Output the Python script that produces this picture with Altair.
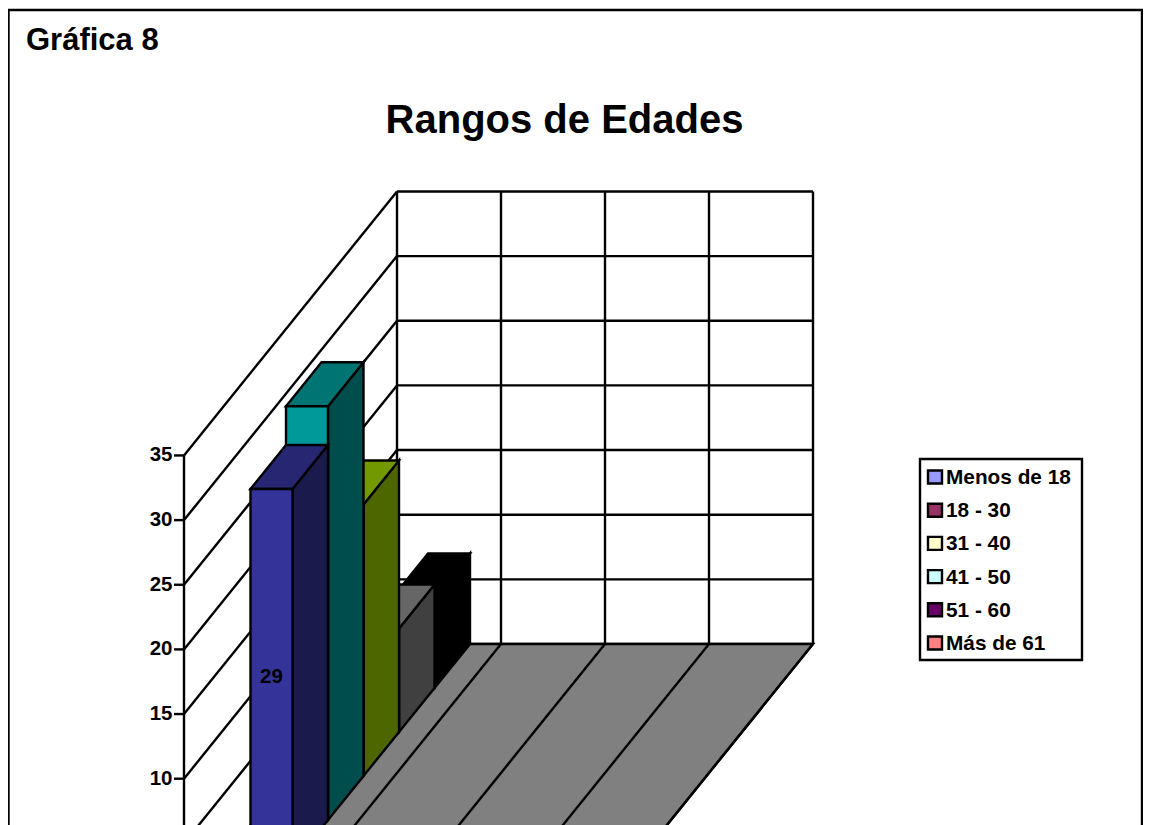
import altair as alt
import pandas as pd

# ---- chart values ----
CHART_LABEL = "Gráfica 8"
TITLE = "Rangos de Edades"
LEGEND_NAMES = ["Menos de 18", "18 - 30", "31 - 40", "41 - 50", "51 - 60", "Más de 61"]
LEGEND_COLORS = ["#9999FF", "#993366", "#FFFFCC", "#CCFFFF", "#660066", "#FF8080"]
BAR_VALUES = [29, 32, 21, 8, 7]
BAR_FRONT = ["#333399", "#009999", "#99CC00", "#808080", "#000000"]
BAR_TOP = ["#262673", "#007373", "#739900", "#666666", "#000000"]
BAR_SIDE = ["#1A1A4D", "#004D4D", "#4D6600", "#404040", "#000000"]
BAR_LABELS = ["29", "", "", "", ""]
TICKS = [0, 5, 10, 15, 20, 25, 30, 35]
CATEGORY_COUNT = 4
SERIES_SLOTS = 6

# ---- oblique projection of the 3D box (screen scale) ----
FRONT_X, FRONT_Y = 184.0, 908.0
UNIT_X, UNIT_Y = 104.0, 12.93      # px per category, px per value unit
SLOT_X, SLOT_Y = 35.5, 44.0        # shift per depth slot
BAR_GAP, BAR_W = 31.0, 42.0
FONT = "Liberation Sans"
LINE = 2.4
W, H = 1135, 817

def px(cat, depth):
    return FRONT_X + cat * UNIT_X + depth * SLOT_X

def py(val, depth):
    return FRONT_Y - val * UNIT_Y - depth * SLOT_Y

X = lambda f="x": alt.X(f"{f}:Q", scale=alt.Scale(domain=[8, 8 + W], range=[0, W]), axis=None)
Y = lambda f="y": alt.Y(f"{f}:Q", scale=alt.Scale(domain=[8 + H, 8], range=[H, 0]), axis=None, stack=None)

def rules(rows, width=LINE, color="black"):
    df = pd.DataFrame(rows, columns=["x", "y", "x2", "y2"])
    return alt.Chart(df).mark_rule(color=color, strokeWidth=width, clip=True).encode(
        x=X(), y=Y(), x2="x2:Q", y2="y2:Q")

def vface(rows, fill):
    # parallelogram with vertical sides
    df = pd.DataFrame(rows, columns=["x", "y", "y2"])
    return alt.Chart(df).mark_area(orient="vertical", color=fill, stroke="black",
                                   strokeWidth=LINE, clip=True, strokeJoin="miter").encode(
        x=X(), y=Y(), y2="y2:Q")

def hface(rows, fill):
    # parallelogram with horizontal sides
    df = pd.DataFrame(rows, columns=["y", "x", "x2"])
    return alt.Chart(df).mark_area(orient="horizontal", color=fill, stroke="black",
                                   strokeWidth=LINE, clip=True, strokeJoin="miter").encode(
        y=Y(), x=X(), x2="x2:Q")

def text(rows, size, align="left", bold=True):
    df = pd.DataFrame(rows, columns=["x", "y", "t"])
    return alt.Chart(df).mark_text(font=FONT, fontSize=size, fontWeight="bold" if bold else "normal",
                                   align=align, baseline="middle", color="black").encode(
        x=X(), y=Y(), text="t:N")

layers = []

# outer frame
layers.append(rules([(8, 10, 1143, 10), (8.5, 10, 8.5, 825), (1142, 10, 1142, 825)]))

# walls: horizontal gridlines on the back wall and slanted ones on the side wall
top = max(TICKS)
wall = []
for t in TICKS:
    wall.append((px(0, SERIES_SLOTS), py(t, SERIES_SLOTS), px(CATEGORY_COUNT, SERIES_SLOTS), py(t, SERIES_SLOTS)))
    wall.append((px(0, 0), py(t, 0), px(0, SERIES_SLOTS), py(t, SERIES_SLOTS)))
    wall.append((px(0, 0) - 10, py(t, 0), px(0, 0), py(t, 0)))
for c in range(CATEGORY_COUNT + 1):
    wall.append((px(c, SERIES_SLOTS), py(0, SERIES_SLOTS), px(c, SERIES_SLOTS), py(top, SERIES_SLOTS)))
wall.append((px(0, 0), py(0, 0), px(0, 0), py(top, 0)))
layers.append(rules(wall))

# floor
layers.append(hface([(py(0, SERIES_SLOTS), px(0, SERIES_SLOTS), px(CATEGORY_COUNT, SERIES_SLOTS)),
                     (py(0, 0), px(0, 0), px(CATEGORY_COUNT, 0))], "#808080"))
layers.append(rules([(px(c, 0), py(0, 0), px(c, SERIES_SLOTS), py(0, SERIES_SLOTS))
                     for c in range(CATEGORY_COUNT + 1)]))

# bars, drawn from the back to the front
for i in reversed(range(len(BAR_VALUES))):
    v = BAR_VALUES[i]
    d0, d1 = i + 1, i + 2
    xl = lambda d: px(0, d) + BAR_GAP
    xr = lambda d: px(0, d) + BAR_GAP + BAR_W
    layers.append(vface([(xr(d0), py(0, d0), py(v, d0)), (xr(d1), py(0, d1), py(v, d1))], BAR_SIDE[i]))
    layers.append(hface([(py(v, d1), xl(d1), xr(d1)), (py(v, d0), xl(d0), xr(d0))], BAR_TOP[i]))
    layers.append(vface([(xl(d0), py(0, d0), py(v, d0)), (xr(d0), py(0, d0), py(v, d0))], BAR_FRONT[i]))

# bar value labels
layers.append(text([(px(0, i + 1) + BAR_GAP + BAR_W / 2, py(BAR_VALUES[i] / 2, i + 1), BAR_LABELS[i])
                    for i in range(len(BAR_VALUES)) if BAR_LABELS[i]], 20.5, "center"))

# tick labels (only those that fall on the visible part of the page)
layers.append(text([(px(0, 0) - 11.5, py(t, 0), str(t)) for t in TICKS if py(t, 0) < 815], 20.5, "right"))

# titles
layers.append(text([(26, 41, CHART_LABEL)], 31))
layers.append(text([(564.5, 121, TITLE)], 40, "center"))

# legend box
LEG_L, LEG_R, LEG_T, LEG_B = 920, 1082, 459, 660
layers.append(vface([(LEG_L, LEG_T, LEG_B), (LEG_R, LEG_T, LEG_B)], "white"))
for i, (n, c) in enumerate(zip(LEGEND_NAMES, LEGEND_COLORS)):
    yc = 477 + i * 33.2
    layers.append(vface([(928, yc - 6.5, yc + 6.5), (942, yc - 6.5, yc + 6.5)], c))
layers.append(text([(946, 478 + i * 33.2, n) for i, n in enumerate(LEGEND_NAMES)], 20.8))

chart = alt.layer(*layers).properties(
    width=W, height=H, padding=0, autosize="none", background="white"
).configure_view(stroke=None)

chart.save("out.html", embed_options={"renderer": "svg", "actions": False})
